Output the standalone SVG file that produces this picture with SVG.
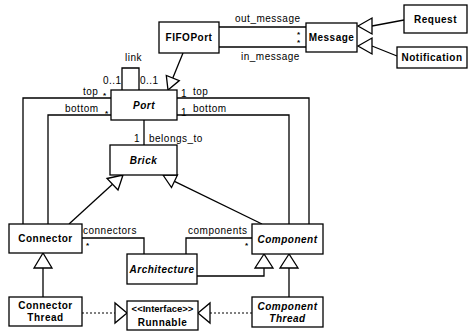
<svg xmlns="http://www.w3.org/2000/svg" width="469" height="331" viewBox="0 0 469 331">
<style>
.box{fill:#fff;stroke:#000;stroke-width:1.3}
.ln{fill:none;stroke:#000;stroke-width:1.3}
.dl{fill:none;stroke:#000;stroke-width:1;stroke-dasharray:2,2}
.tri{fill:#fff;stroke:#000;stroke-width:1.3;stroke-linejoin:miter}
.cn{font-family:"Liberation Sans",Arial,sans-serif;font-size:10px;font-weight:bold;letter-spacing:0.5px;text-anchor:middle;fill:#000}
.ab{font-style:italic}
.lb{font-family:"Liberation Sans",Arial,sans-serif;font-size:10px;letter-spacing:0.5px;fill:#000}
.st{font-family:"Liberation Sans",Arial,sans-serif;font-size:8px;font-weight:bold;fill:#000}
</style>
<rect width="469" height="331" fill="#fff"/>
<g id="connectors">
  <!-- FIFOPort - Message -->
  <line class="ln" x1="219" y1="27" x2="306" y2="27"/>
  <line class="ln" x1="219" y1="47" x2="306" y2="47"/>
  <!-- Request/Notification -> Message -->
  <line class="ln" x1="372" y1="26" x2="404" y2="20"/>
  <polygon class="tri" points="358,26 372,18 372,34"/>
  <line class="ln" x1="372" y1="46" x2="397" y2="56"/>
  <polygon class="tri" points="358,46 372,38 372,54"/>
  <!-- FIFOPort -> Port -->
  <line class="ln" x1="183" y1="53" x2="172.8" y2="78"/>
  <polygon class="tri" points="168,90 179.3,80.6 166.3,75.4"/>
  <!-- link self association -->
  <polyline class="ln" points="122,90 122,68 139,68 139,90"/>
  <!-- Port top/bottom to Connector -->
  <polyline class="ln" points="111,98 23,98 23,224"/>
  <polyline class="ln" points="111,115 48,115 48,224"/>
  <!-- Port top/bottom to Component -->
  <polyline class="ln" points="177,98 309,98 309,224"/>
  <polyline class="ln" points="177,115 289,115 289,224"/>
  <!-- Port - Brick -->
  <line class="ln" x1="144" y1="120" x2="144" y2="145"/>
  <!-- Connector/Component -> Brick -->
  <line class="ln" x1="69" y1="224" x2="112.5" y2="184.3"/>
  <polygon class="tri" points="123,175 118,190 107,178.5"/>
  <line class="ln" x1="262" y1="224" x2="174.5" y2="181.3"/>
  <polygon class="tri" points="163,175 177.5,175 171.5,187.5"/>
  <!-- Architecture associations -->
  <polyline class="ln" points="82,238 144,238 144,254"/>
  <polyline class="ln" points="252,238 186,238 186,254"/>
  <!-- Architecture -> Component -->
  <polyline class="ln" points="197,276 264,276 264,268"/>
  <polygon class="tri" points="264,254 255,268 273,268"/>
  <!-- Component Thread -> Component -->
  <line class="ln" x1="289" y1="268" x2="289" y2="297"/>
  <polygon class="tri" points="289,254 280,268 298,268"/>
  <!-- Connector Thread -> Connector -->
  <line class="ln" x1="43" y1="268" x2="43" y2="297"/>
  <polygon class="tri" points="43,253 34,268 52,268"/>
  <!-- Realizations -->
  <line class="dl" x1="82" y1="313" x2="115" y2="313"/>
  <polygon class="tri" points="127,313 115,303 115,323"/>
  <line class="dl" x1="210" y1="313" x2="252" y2="313"/>
  <polygon class="tri" points="198,313 210,303 210,323"/>
</g>
<g id="labels">
  <text class="lb" x="235" y="22">out_message</text>
  <text class="lb" x="241" y="60">in_message</text>
  <text class="st" x="297" y="37">*</text>
  <text class="st" x="297" y="45">*</text>
  <text class="lb" x="125" y="61">link</text>
  <text class="lb" x="103" y="84">0..1</text>
  <text class="lb" x="140" y="84">0..1</text>
  <text class="lb" x="83" y="95">top</text>
  <text class="st" x="103" y="98">*</text>
  <text class="lb" x="65" y="112">bottom</text>
  <text class="st" x="105" y="116">*</text>
  <text class="lb" x="181" y="97">1</text>
  <text class="lb" x="193" y="95">top</text>
  <text class="lb" x="181" y="116">1</text>
  <text class="lb" x="193" y="112">bottom</text>
  <text class="lb" x="134" y="142">1</text>
  <text class="lb" x="149" y="142">belongs_to</text>
  <text class="lb" x="83" y="234">connectors</text>
  <text class="st" x="86" y="248">*</text>
  <text class="lb" x="188" y="234">components</text>
  <text class="st" x="245" y="248">*</text>
</g>
<g id="FIFOPort"><rect class="box" x="159" y="22" width="60" height="31"/><text class="cn" x="189" y="41">FIFOPort</text></g>
<g id="Message"><rect class="box" x="306" y="23" width="51" height="29"/><text class="cn" x="331.5" y="41">Message</text></g>
<g id="Request"><rect class="box" x="404" y="5" width="63" height="28"/><text class="cn" x="435.5" y="23">Request</text></g>
<g id="Notification"><rect class="box" x="397" y="47" width="70" height="21"/><text class="cn" x="432" y="61">Notification</text></g>
<g id="Port"><rect class="box" x="111" y="90" width="66" height="30"/><text class="cn ab" x="144" y="109">Port</text></g>
<g id="Brick"><rect class="box" x="110" y="145" width="67" height="30"/><text class="cn ab" x="143.5" y="164">Brick</text></g>
<g id="Connector"><rect class="box" x="9" y="224" width="73" height="29"/><text class="cn" x="45.5" y="242">Connector</text></g>
<g id="Component"><rect class="box" x="252" y="224" width="71" height="30"/><text class="cn ab" x="287.5" y="243">Component</text></g>
<g id="Architecture"><rect class="box" x="127" y="254" width="70" height="30"/><text class="cn ab" x="162" y="273">Architecture</text></g>
<g id="ConnectorThread"><rect class="box" x="9" y="297" width="73" height="29"/><text class="cn" x="45.5" y="309">Connector</text><text class="cn" x="45.5" y="321">Thread</text></g>
<g id="ComponentThread"><rect class="box" x="252" y="297" width="71" height="30"/><text class="cn ab" x="287.5" y="310">Component</text><text class="cn ab" x="287.5" y="322">Thread</text></g>
<g id="Runnable"><rect class="box" x="127" y="301" width="71" height="29"/><text class="cn" x="162.5" y="312" style="letter-spacing:0;font-size:9.5px">&lt;&lt;Interface&gt;&gt;</text><text class="cn" x="162.5" y="326">Runnable</text></g>
</svg>
